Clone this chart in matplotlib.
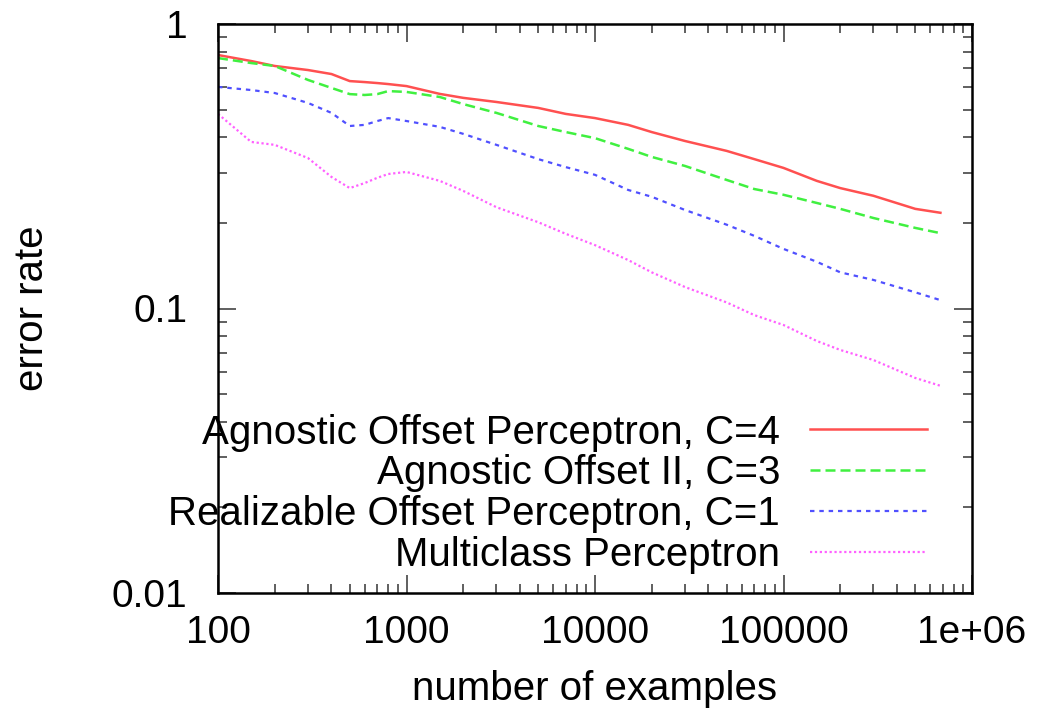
import numpy as np
import matplotlib
matplotlib.use('Agg')
import matplotlib.pyplot as plt

# numero de ejemplos (eje x) y tasas de error
ejemplos = [100, 150, 200, 300, 400, 500, 600, 700, 800, 1000, 1500, 2000, 3000,
            5000, 7000, 10000, 15000, 20000, 30000, 50000, 70000, 100000,
            150000, 200000, 300000, 500000, 680000]

agnostic_c4 = [0.778, 0.741, 0.712, 0.689, 0.667, 0.630, 0.625, 0.620, 0.615, 0.605,
               0.568, 0.550, 0.532, 0.507, 0.483, 0.467, 0.442, 0.417, 0.388, 0.358,
               0.335, 0.312, 0.281, 0.265, 0.249, 0.224, 0.217]
agnostic_ii_c3 = [0.759, 0.729, 0.712, 0.636, 0.596, 0.567, 0.563, 0.567, 0.581, 0.577,
                  0.554, 0.523, 0.487, 0.438, 0.417, 0.397, 0.364, 0.341, 0.317, 0.283,
                  0.263, 0.251, 0.235, 0.224, 0.208, 0.192, 0.184]
realizable_c1 = [0.601, 0.586, 0.572, 0.528, 0.487, 0.438, 0.442, 0.456, 0.467, 0.456,
                 0.435, 0.411, 0.376, 0.335, 0.314, 0.295, 0.261, 0.247, 0.222, 0.197,
                 0.180, 0.162, 0.146, 0.134, 0.126, 0.114, 0.107]
multiclass = [0.483, 0.385, 0.376, 0.338, 0.290, 0.265, 0.276, 0.288, 0.297, 0.302,
              0.281, 0.259, 0.227, 0.201, 0.183, 0.167, 0.148, 0.134, 0.119, 0.105,
              0.0948, 0.0875, 0.0769, 0.0715, 0.0659, 0.057, 0.0535]

etiquetas = ['Agnostic Offset Perceptron, C=4', 'Agnostic Offset II, C=3',
             'Realizable Offset Perceptron, C=1', 'Multiclass Perceptron']

xticks = [100, 1000, 10000, 100000, 1000000]
xtick_labels = ['100', '1000', '10000', '100000', '1e+06']
yticks = [0.01, 0.1, 1]
ytick_labels = ['0.01', '0.1', '1']

plt.rcParams['font.family'] = ['Liberation Sans', 'DejaVu Sans']
fs = 29

fig = plt.figure(figsize=(10.42, 7.17), dpi=100)
ax = fig.add_axes([218 / 1042, 1 - 593 / 717, (972 - 218) / 1042, (593 - 24) / 717])

ax.plot(ejemplos, agnostic_c4, color='#ff5050', lw=1.8, ls='-', label=etiquetas[0])
ax.plot(ejemplos, agnostic_ii_c3, color='#40f040', lw=1.8, ls=(0, (4, 2)), label=etiquetas[1])
ax.plot(ejemplos, realizable_c1, color='#5050ff', lw=1.6, ls=(0, (2, 2.2)), label=etiquetas[2])
ax.plot(ejemplos, multiclass, color='#ff60ff', lw=1.6, ls=(0, (1, 1.2)), label=etiquetas[3])

ax.set_xscale('log')
ax.set_yscale('log')
ax.set_xlim(100, 1e6)
ax.set_ylim(0.01, 1)
ax.set_xticks(xticks, xtick_labels)
ax.set_yticks(yticks, ytick_labels)

ax.tick_params(which='both', direction='in', top=True, right=True, labelsize=fs - 1, color='#444444')
ax.tick_params(which='major', length=13, width=1.2, pad=16)
ax.tick_params(axis='y', which='major', pad=22)
ax.tick_params(which='minor', length=6.5, width=1.2)
for s in ax.spines.values():
    s.set_linewidth(1.8)

ax.set_xlabel('number of examples', fontsize=fs)
ax.set_ylabel('error rate', fontsize=fs)
ax.xaxis.set_label_coords(0.5, -0.135)
ax.yaxis.set_label_coords(-0.222, 0.5)

leg = ax.legend(loc='lower right', bbox_to_anchor=(0.962, 0.005), frameon=False, fontsize=fs,
                markerfirst=False, handlelength=2.9, handletextpad=0.75, labelspacing=0.07,
                borderaxespad=0.0)
for t in leg.get_texts():
    t.set_ha('right')

fig.savefig('out.png', dpi=100)
